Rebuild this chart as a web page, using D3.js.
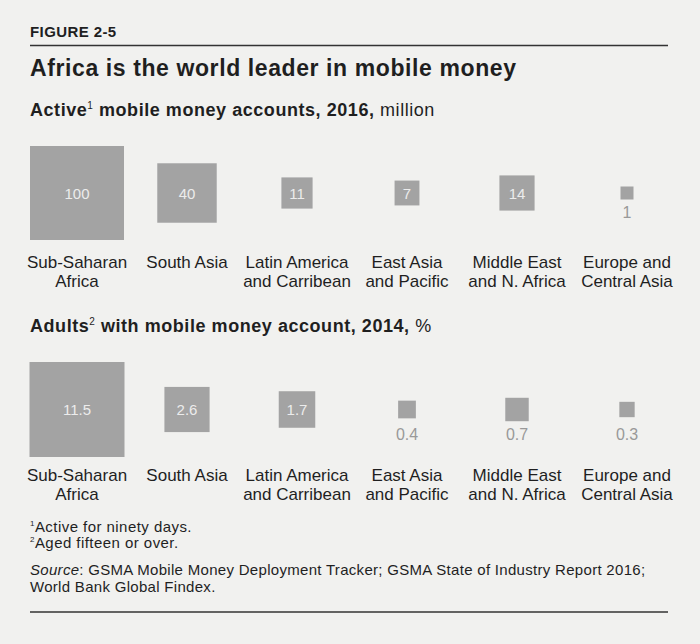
<!DOCTYPE html>
<html>
<head>
<meta charset="utf-8">
<script src="https://cdn.jsdelivr.net/npm/d3@7"></script>
<style>
  html, body { margin: 0; padding: 0; background: #f1f1ef; }
  svg { display: block; }
  text { font-family: "Liberation Sans", Arial, Helvetica, sans-serif; }
</style>
</head>
<body>
<svg id="chart" width="700" height="644"></svg>
<script>
// ---- Data ----
const categories = [
  ["Sub-Saharan", "Africa"],
  ["South Asia"],
  ["Latin America", "and Carribean"],
  ["East Asia", "and Pacific"],
  ["Middle East", "and N. Africa"],
  ["Europe and", "Central Asia"]
];
const accounts2016 = [100, 40, 11, 7, 14, 1];          // million active accounts
const accountLabels = ["100", "40", "11", "7", "14", "1"];
const adults2014 = [11.5, 2.6, 1.7, 0.4, 0.7, 0.3];    // % of adults
const adultLabels = ["11.5", "2.6", "1.7", "0.4", "0.7", "0.3"];

const figureLabel = "FIGURE 2-5";
const title = "Africa is the world leader in mobile money";
const footnotes = [["1", "Active for ninety days."], ["2", "Aged fifteen or over."]];
const sourceLines = ["GSMA Mobile Money Deployment Tracker; GSMA State of Industry Report 2016;", "World Bank Global Findex."];

// ---- Drawing ----
const svg = d3.select("#chart");
const W = 700, H = 644;
const ink = "#1f1f1f";
const boxColor = "#a3a3a3";

svg.append("rect").attr("width", W).attr("height", H).attr("fill", "#f1f1ef");

svg.append("text").attr("x", 30).attr("y", 37)
  .attr("font-size", 15).attr("font-weight", "bold").attr("fill", ink)
  .attr("letter-spacing", 0.4)
  .text(figureLabel);

svg.append("line").attr("x1", 30).attr("x2", 668).attr("y1", 45.5).attr("y2", 45.5)
  .attr("stroke", "#333").attr("stroke-width", 1.5);

svg.append("text").attr("x", 30).attr("y", 76)
  .attr("font-size", 23).attr("font-weight", "bold").attr("fill", ink)
  .attr("letter-spacing", 0.6)
  .text(title);

function subtitle(y, main, sup, rest, unit) {
  const t = svg.append("text").attr("x", 30).attr("y", y).attr("font-size", 18)
    .attr("letter-spacing", 0.55).attr("fill", ink);
  t.append("tspan").attr("font-weight", "bold").text(main);
  t.append("tspan").attr("font-size", 10).attr("dy", -7).text(sup);
  t.append("tspan").attr("dy", 7).attr("font-weight", "bold").text(rest);
  t.append("tspan").text(unit);
}
subtitle(116, "Active", "1", " mobile money accounts, 2016,", " million");
subtitle(332, "Adults", "2", " with mobile money account, 2014,", " %");

const x = d3.scaleBand().domain(d3.range(categories.length)).range([22, 682]);

function drawRow(values, labels, maxValue, maxSide, cy, labelY, minSide) {
  const size = d3.scaleSqrt().domain([0, maxValue]).range([0, maxSide]);
  const side = v => Math.max(minSide, size(v));
  const g = svg.append("g");
  const items = values.map((v, i) => ({ v, i, label: labels[i], s: side(v) }));

  g.selectAll("rect").data(items).join("rect")
    .attr("x", d => x(d.i) + x.bandwidth() / 2 - d.s / 2)
    .attr("y", d => cy - d.s / 2)
    .attr("width", d => d.s)
    .attr("height", d => d.s)
    .attr("fill", boxColor);

  // decide inside / outside labels by whether the text fits
  const tmp = svg.append("text").attr("font-size", 15);
  items.forEach(d => {
    tmp.text(d.label);
    const w = tmp.node().getComputedTextLength();
    d.inside = w + 8 <= d.s;
  });
  tmp.remove();

  const outsideBottom = d3.max(items.filter(d => !d.inside), d => cy + d.s / 2) || cy;

  g.selectAll("text.val").data(items).join("text")
    .attr("class", "val")
    .attr("x", d => x(d.i) + x.bandwidth() / 2)
    .attr("y", d => d.inside ? cy + 5.5 : outsideBottom + 18.5)
    .attr("text-anchor", "middle")
    .attr("font-size", d => d.inside ? 15 : 16)
    .attr("fill", d => d.inside ? "#ececec" : "#999")
    .text(d => d.label);

  const cat = g.selectAll("text.cat").data(categories).join("text")
    .attr("class", "cat")
    .attr("x", (d, i) => x(i) + x.bandwidth() / 2)
    .attr("y", labelY)
    .attr("text-anchor", "middle")
    .attr("font-size", 17)
    .attr("fill", ink);
  cat.selectAll("tspan").data(d => d).join("tspan")
    .attr("x", function () { return this.parentNode.getAttribute("x"); })
    .attr("dy", (d, j) => j === 0 ? 0 : 19)
    .text(d => d);
}

drawRow(accounts2016, accountLabels, 100, 94, 193, 268, 13);
drawRow(adults2014, adultLabels, 11.5, 95, 409.5, 481, 0);

// footnotes
footnotes.forEach((f, i) => {
  const t = svg.append("text").attr("x", 30).attr("y", 532 + i * 16)
    .attr("font-size", 15).attr("letter-spacing", 0.45).attr("fill", ink);
  t.append("tspan").attr("font-size", 8).attr("dy", -6).text(f[0]);
  t.append("tspan").attr("dy", 6).text(f[1]);
});

// source
const s1 = svg.append("text").attr("x", 30).attr("y", 575).attr("font-size", 15)
  .attr("letter-spacing", 0.3).attr("fill", ink);
s1.append("tspan").attr("font-style", "italic").text("Source");
s1.append("tspan").text(": " + sourceLines[0]);
svg.append("text").attr("x", 30).attr("y", 592).attr("font-size", 15)
  .attr("letter-spacing", 0.3).attr("fill", ink)
  .text(sourceLines[1]);

svg.append("line").attr("x1", 30).attr("x2", 668).attr("y1", 612).attr("y2", 612)
  .attr("stroke", "#333").attr("stroke-width", 1.5);
</script>
</body>
</html>
